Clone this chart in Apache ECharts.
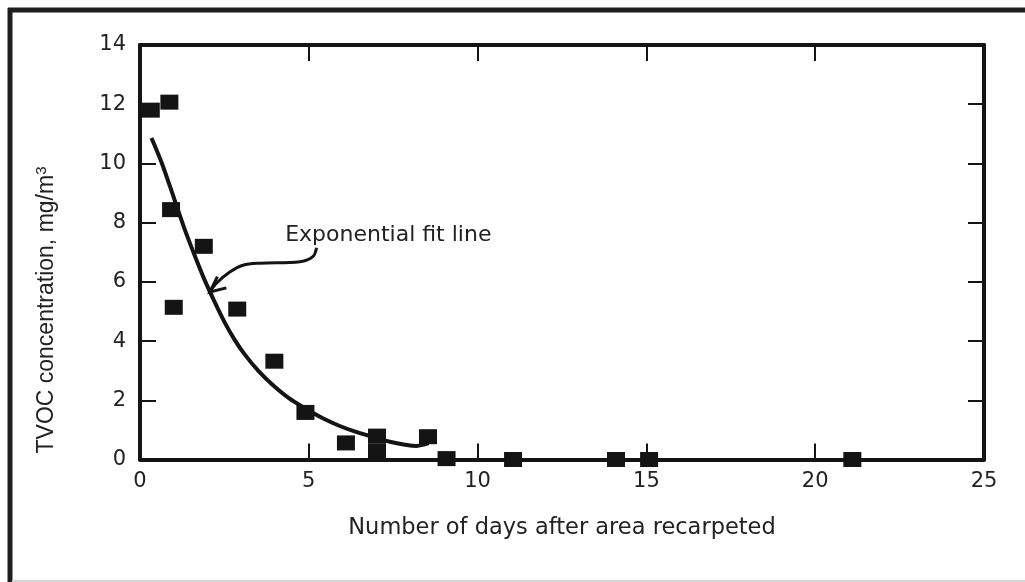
<!DOCTYPE html>
<html>
<head>
<meta charset="utf-8">
<title>TVOC concentration after recarpeting</title>
<script src="https://cdn.jsdelivr.net/npm/echarts@6/dist/echarts.min.js"></script>
<style>
  html, body { margin: 0; padding: 0; background: #fff; }
  #chart { width: 1025px; height: 582px; }
</style>
</head>
<body>
<div id="chart"></div>
<script>
// Measured TVOC concentrations (mg/m3) by day after the area was recarpeted
const days = [0.32, 0.87, 0.92, 1.0, 1.89, 2.88, 3.98, 4.9, 6.1, 7.02, 7.02, 8.53, 9.08, 11.05, 14.1, 15.08, 21.1];
const tvoc = [11.8, 12.07, 8.44, 5.14, 7.2, 5.08, 3.32, 1.59, 0.56, 0.79, 0.29, 0.77, 0.03, 0.0, 0.0, 0.0, 0.0];

// Exponential fit curve, traced point by point
const fitDays = [0.34, 0.65, 1.0, 1.3, 1.6, 1.9, 2.2, 2.5, 2.8, 3.1, 3.5, 3.9, 4.4, 4.9, 5.4, 5.9, 6.4, 6.9, 7.4, 7.9, 8.2, 8.55];
const fitTvoc = [10.86, 10.0, 8.85, 7.85, 6.95, 6.1, 5.35, 4.65, 4.05, 3.55, 3.0, 2.55, 2.08, 1.72, 1.4, 1.14, 0.93, 0.76, 0.6, 0.49, 0.46, 0.55];

// Axis ranges
const xMin = 0, xMax = 25, xStep = 5;
const yMin = 0, yMax = 14, yStep = 2;

// Callout: label anchor and leader path (data units), ending at the curve
const calloutText = 'Exponential fit line';
const calloutAt = [4.3, 7.56];
const leaderX = [5.23, 5.12, 4.74, 3.55, 3.05, 2.67, 2.28, 2.07];
const leaderY = [7.15, 6.85, 6.68, 6.63, 6.56, 6.34, 5.97, 5.66];

const xTitle = 'Number of days after area recarpeted';
const yTitle = 'TVOC concentration, mg/m';

const ink = '#141414';
const font = 'DejaVu Sans';

const chart = echarts.init(document.getElementById('chart'), null, { renderer: 'canvas' });

function axisBase(min, max, step) {
  return {
    type: 'value', min: min, max: max, interval: step,
    splitLine: { show: false },
    axisLine: { show: true, onZero: false, lineStyle: { color: ink, width: 4 } },
    axisTick: { show: true, inside: true, length: 16, lineStyle: { color: ink, width: 2 } }
  };
}

const option = {
  backgroundColor: '#fff',
  animation: false,
  grid: { left: 140, right: 41, top: 45, bottom: 122.5, containLabel: false },
  xAxis: [
    Object.assign(axisBase(xMin, xMax, xStep), {
      position: 'bottom',
      axisLabel: { color: '#222', fontFamily: font, fontSize: 21, margin: 12 },
      name: xTitle, nameLocation: 'middle', nameGap: 57,
      nameTextStyle: { color: '#222', fontFamily: font, fontSize: 22.5 }
    }),
    Object.assign(axisBase(xMin, xMax, xStep), {
      position: 'top', axisLabel: { show: false }
    })
  ],
  yAxis: [
    Object.assign(axisBase(yMin, yMax, yStep), {
      position: 'left',
      axisLabel: { color: '#222', fontFamily: font, fontSize: 21, margin: 14 }
    }),
    Object.assign(axisBase(yMin, yMax, yStep), {
      position: 'right', axisLabel: { show: false }
    })
  ],
  series: [
    {
      name: 'Fit',
      type: 'line',
      data: fitDays.map((d, i) => [d, fitTvoc[i]]),
      smooth: 0.3,
      showSymbol: false,
      lineStyle: { color: ink, width: 4 },
      z: 2
    },
    {
      name: 'TVOC',
      type: 'scatter',
      data: days.map((d, i) => [d, tvoc[i]]),
      symbol: 'rect',
      symbolSize: [18, 15],
      itemStyle: { color: ink, opacity: 1 },
      z: 3
    }
  ]
};

chart.setOption(option);

// Decorations placed from data coordinates through the chart's own scales
function px(pt) { return chart.convertToPixel({ xAxisIndex: 0, yAxisIndex: 0 }, pt); }

const labelPos = px(calloutAt);
const leaderPts = leaderX.map((x, i) => px([x, leaderY[i]]));
const tip = leaderPts[leaderPts.length - 1];
const back = leaderPts[leaderPts.length - 4];
const ang = Math.atan2(back[1] - tip[1], back[0] - tip[0]);
const wing = 17, spread = 25 * Math.PI / 180;
const w1 = [tip[0] + wing * Math.cos(ang - spread), tip[1] + wing * Math.sin(ang - spread)];
const w2 = [tip[0] + wing * Math.cos(ang + spread), tip[1] + wing * Math.sin(ang + spread)];

chart.setOption({
  graphic: [
    // Outer frame
    { type: 'line', silent: true, shape: { x1: 10, y1: 8, x2: 10, y2: 582 }, style: { stroke: '#1e1e1e', lineWidth: 5 } },
    { type: 'line', silent: true, shape: { x1: 8, y1: 10, x2: 1025, y2: 10 }, style: { stroke: '#1e1e1e', lineWidth: 5 } },
    { type: 'line', silent: true, shape: { x1: 12, y1: 581, x2: 1025, y2: 581 }, style: { stroke: '#d4d4d4', lineWidth: 2 } },
    // Y axis title
    {
      type: 'text', silent: true, x: 47, y: 310, rotation: Math.PI / 2,
      style: {
        text: yTitle + '{sup|3}', fill: '#222', font: '23px "Liberation Sans"',
        align: 'center', verticalAlign: 'middle',
        rich: { sup: { fontSize: 15, fontFamily: 'Liberation Sans', verticalAlign: 'top', padding: [0, 0, 10, 0], fill: '#222' } }
      }
    },
    // Callout label and leader
    {
      type: 'text', silent: true, x: labelPos[0], y: labelPos[1],
      style: { text: calloutText, fill: '#222', font: '22px "' + font + '"', align: 'left', verticalAlign: 'middle' }
    },
    {
      type: 'polyline', silent: true, shape: { points: leaderPts, smooth: 0.35 },
      style: { stroke: ink, lineWidth: 3, fill: null }
    },
    {
      type: 'polyline', silent: true, shape: { points: [w1, tip, w2] },
      style: { stroke: ink, lineWidth: 3, fill: null }
    }
  ]
});
</script>
</body>
</html>
